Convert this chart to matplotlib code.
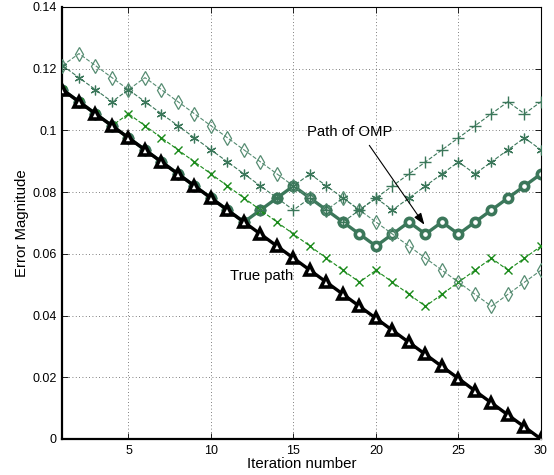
import matplotlib
matplotlib.use("Agg")
import matplotlib.pyplot as plt

plt.rcParams["font.family"] = ["Liberation Sans", "DejaVu Sans"]

iterations = list(range(1, 31))

true_path = [0.1132, 0.1093, 0.1054, 0.1015, 0.0976, 0.0937, 0.0898, 0.0859, 0.0820, 0.0781,
             0.0742, 0.0703, 0.0664, 0.0625, 0.0586, 0.0547, 0.0508, 0.0469, 0.0430, 0.0391,
             0.0352, 0.0313, 0.0274, 0.0235, 0.0196, 0.0156, 0.0117, 0.0078, 0.0039, 0.0]

omp_path = [0.1132, 0.1093, 0.1054, 0.1015, 0.0976, 0.0937, 0.0898, 0.0859, 0.0820, 0.0781,
            0.0742, 0.0703, 0.0742, 0.0781, 0.0820, 0.0781, 0.0742, 0.0703, 0.0664, 0.0625,
            0.0664, 0.0703, 0.0664, 0.0703, 0.0664, 0.0703, 0.0742, 0.0781, 0.0820, 0.0859]

plus_path = [0.1132, 0.1093, 0.1054, 0.1015, 0.0976, 0.0937, 0.0898, 0.0859, 0.0820, 0.0781,
             0.0742, 0.0703, 0.0742, 0.0781, 0.0742, 0.0781, 0.0742, 0.0703, 0.0742, 0.0781,
             0.0820, 0.0859, 0.0898, 0.0937, 0.0976, 0.1015, 0.1054, 0.1093, 0.1054, 0.1093]

star_path = [0.1210, 0.1171, 0.1132, 0.1093, 0.1132, 0.1093, 0.1054, 0.1015, 0.0976, 0.0937,
             0.0898, 0.0859, 0.0820, 0.0781, 0.0820, 0.0859, 0.0820, 0.0781, 0.0742, 0.0781,
             0.0742, 0.0781, 0.0820, 0.0859, 0.0898, 0.0859, 0.0898, 0.0937, 0.0976, 0.0937]

diamond_path = [0.1210, 0.1249, 0.1210, 0.1171, 0.1132, 0.1171, 0.1132, 0.1093, 0.1054, 0.1015,
                0.0976, 0.0937, 0.0898, 0.0859, 0.0820, 0.0781, 0.0742, 0.0781, 0.0742, 0.0703,
                0.0664, 0.0625, 0.0586, 0.0547, 0.0508, 0.0469, 0.0430, 0.0469, 0.0508, 0.0547]

cross_path = [0.1132, 0.1093, 0.1054, 0.1015, 0.1054, 0.1015, 0.0976, 0.0937, 0.0898, 0.0859,
              0.0820, 0.0781, 0.0742, 0.0703, 0.0664, 0.0625, 0.0586, 0.0547, 0.0508, 0.0547,
              0.0508, 0.0469, 0.0430, 0.0469, 0.0508, 0.0547, 0.0586, 0.0547, 0.0586, 0.0625]

dark_green = "#3b775a"
light_green = "#568c72"
bright_green = "#1a8a1a"


def main():
    fig = plt.figure(figsize=(5.54, 4.75), dpi=100)
    ax = fig.add_axes([0.1128, 0.0758, 0.8637, 0.9095])

    # OMP path sits underneath the other greedy paths
    ax.plot(iterations, omp_path, "-", color=dark_green, lw=2.4, marker="o", ms=6,
            mfc="white", mec=dark_green, mew=2.6, zorder=2)
    ax.plot(iterations, cross_path, "--", color=bright_green, lw=0.8, marker="x", ms=6,
            mew=1.0, zorder=3)
    ax.plot(iterations, diamond_path, "--", color=light_green, lw=0.8, marker="d", ms=7.5,
            mfc="none", mec=light_green, mew=0.9, zorder=3)
    ax.plot(iterations, star_path, "--", color=dark_green, lw=0.8, marker=(6, 2, 0), ms=7,
            mec=dark_green, mew=0.9, zorder=3)
    ax.plot(iterations, plus_path, "--", color=dark_green, lw=0.8, marker="+", ms=8,
            mew=1.0, zorder=3)
    ax.plot(iterations, true_path, "-", color="black", lw=2.4, marker="^", ms=7,
            mfc="white", mec="black", mew=2.6, zorder=4)

    ax.text(15.82, 0.0995, "Path of OMP", fontsize=10.7, va="center", ha="left")
    ax.annotate("", xy=(23.03, 0.0687), xytext=(19.5, 0.0959),
                arrowprops=dict(arrowstyle="-|>,head_length=0.7,head_width=0.25",
                                color="black", lw=0.8))
    ax.text(11.15, 0.0529, "True path", fontsize=10.7, va="center", ha="left")

    ax.set_xlim(1, 30)
    ax.set_ylim(0, 0.14)
    ax.set_xticks([5, 10, 15, 20, 25, 30])
    ax.set_yticks([0, 0.02, 0.04, 0.06, 0.08, 0.1, 0.12, 0.14])
    ax.set_yticklabels(["0", "0.02", "0.04", "0.06", "0.08", "0.1", "0.12", "0.14"])
    ax.tick_params(direction="in", length=4, width=0.6, labelsize=9,
                   top=True, right=True, pad=4)
    ax.grid(True, linestyle=(0, (1, 3)), color="#555555", lw=0.6)

    for side in ("left", "bottom"):
        ax.spines[side].set_linewidth(1.6)
    for side in ("top", "right"):
        ax.spines[side].set_linewidth(0.8)

    ax.set_xlabel("Iteration number", fontsize=10.8, labelpad=0)
    ax.set_ylabel("Error Magnitude", fontsize=10.8, labelpad=2.5)

    fig.savefig("out.png", dpi=100)


if __name__ == "__main__":
    main()
